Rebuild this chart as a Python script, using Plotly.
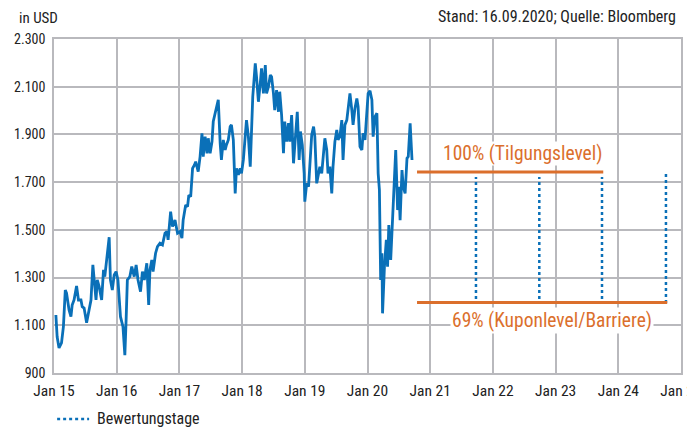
import plotly.graph_objects as go

# price history (decimal years, USD)
t_years = [
    2015.03, 2015.05, 2015.08, 2015.12, 2015.15, 2015.18, 2015.20, 2015.24, 2015.27, 2015.29,
    2015.32, 2015.36, 2015.39, 2015.43, 2015.45, 2015.48, 2015.52, 2015.56, 2015.59, 2015.62,
    2015.64, 2015.67, 2015.69, 2015.72, 2015.76, 2015.79, 2015.81, 2015.84, 2015.88, 2015.90,
    2015.93, 2015.96, 2015.99, 2016.02, 2016.04, 2016.06, 2016.10, 2016.13, 2016.15, 2016.17,
    2016.21, 2016.24, 2016.28, 2016.31, 2016.34, 2016.38, 2016.41, 2016.44, 2016.48, 2016.51,
    2016.53, 2016.56, 2016.58, 2016.62, 2016.65, 2016.69, 2016.73, 2016.77, 2016.80, 2016.82,
    2016.86, 2016.89, 2016.93, 2016.97, 2017.01, 2017.04, 2017.06, 2017.10, 2017.13, 2017.15,
    2017.18, 2017.21, 2017.24, 2017.26, 2017.30, 2017.33, 2017.36, 2017.38, 2017.41, 2017.44,
    2017.46, 2017.49, 2017.52, 2017.54, 2017.57, 2017.60, 2017.62, 2017.65, 2017.67, 2017.70,
    2017.73, 2017.75, 2017.78, 2017.81, 2017.83, 2017.86, 2017.89, 2017.91, 2017.94, 2017.97,
    2017.99, 2018.02, 2018.05, 2018.07, 2018.10, 2018.13, 2018.17, 2018.21, 2018.23, 2018.26,
    2018.29, 2018.31, 2018.34, 2018.37, 2018.39, 2018.42, 2018.45, 2018.47, 2018.50, 2018.52,
    2018.55, 2018.58, 2018.60, 2018.63, 2018.66, 2018.68, 2018.71, 2018.74, 2018.76, 2018.79,
    2018.82, 2018.84, 2018.88, 2018.91, 2018.93, 2018.96, 2018.99, 2019.00, 2019.03, 2019.06,
    2019.08, 2019.11, 2019.14, 2019.16, 2019.19, 2019.22, 2019.24, 2019.27, 2019.30, 2019.32,
    2019.35, 2019.37, 2019.40, 2019.43, 2019.45, 2019.48, 2019.51, 2019.53, 2019.56, 2019.59,
    2019.61, 2019.64, 2019.67, 2019.69, 2019.72, 2019.75, 2019.77, 2019.80, 2019.83, 2019.85,
    2019.88, 2019.91, 2019.93, 2019.96, 2019.99, 2020.01, 2020.04, 2020.07, 2020.09, 2020.12,
    2020.15, 2020.17, 2020.19, 2020.21, 2020.23, 2020.24, 2020.27, 2020.30, 2020.32, 2020.34,
    2020.37, 2020.40, 2020.43, 2020.45, 2020.48, 2020.50, 2020.52, 2020.55, 2020.57, 2020.60,
    2020.63, 2020.65, 2020.68, 2020.70, 2020.71,
]
price = [
    1143, 1052, 1005, 1026, 1094, 1248, 1235, 1164, 1136, 1185,
    1206, 1265, 1206, 1206, 1178, 1172, 1111, 1164, 1206, 1353,
    1276, 1206, 1290, 1262, 1206, 1332, 1304, 1388, 1469, 1290,
    1248, 1311, 1325, 1290, 1206, 1136, 1094, 975, 1122, 1290,
    1304, 1346, 1304, 1353, 1290, 1241, 1325, 1290, 1360, 1185,
    1332, 1374, 1325, 1402, 1430, 1444, 1437, 1486, 1493, 1458,
    1576, 1514, 1541, 1486, 1493, 1465, 1541, 1604, 1597, 1646,
    1639, 1758, 1772, 1786, 1744, 1807, 1905, 1807, 1891, 1821,
    1884, 1821, 1870, 1954, 1989, 2031, 2045, 1863, 1793, 1877,
    1835, 1856, 1877, 1933, 1940, 1877, 1653, 1758, 1730, 1758,
    1737, 1793, 1891, 1960, 1891, 1765, 2058, 2198, 2142, 2037,
    2114, 2177, 2072, 2191, 2072, 2100, 2149, 2142, 2072, 2002,
    2086, 1995, 2079, 1981, 1821, 1954, 1870, 1947, 1870, 1981,
    1779, 1849, 1995, 1793, 1912, 1856, 1737, 1618, 1695, 1681,
    1793, 1898, 1933, 1891, 1695, 1737, 1765, 1737, 1835, 1884,
    1835, 1737, 1765, 1653, 1765, 1870, 1919, 1877, 1891, 1960,
    1793, 1940, 1960, 2009, 2072, 2002, 1940, 2009, 2051, 2016,
    1849, 1835, 1905, 1877, 1989, 2072, 2083, 2045, 1891, 1974,
    1989, 1737, 1667, 1290, 1402, 1150, 1346, 1458, 1346, 1520,
    1374, 1555, 1737, 1835, 1583, 1681, 1541, 1751, 1681, 1653,
    1800, 1807, 1947, 1821, 1793,
]

# levels
level_names = ["100% (Tilgungslevel)", "69% (Kuponlevel/Barriere)"]
level_values = [1742, 1195]
level_start = [2020.79, 2020.79]
level_end = [2023.76, 2024.78]

# valuation days
valuation_label = "Bewertungstage"
valuation_days = [2021.73, 2022.74, 2023.74, 2024.76]
valuation_low = [1210, 1210, 1210, 1193]
valuation_high = [1722, 1722, 1722, 1747]

x_tickvals = [2015, 2016, 2017, 2018, 2019, 2020, 2021, 2022, 2023, 2024, 2025]
x_ticktext = ["Jan 15", "Jan 16", "Jan 17", "Jan 18", "Jan 19", "Jan 20",
              "Jan 21", "Jan 22", "Jan 23", "Jan 24", "Jan 25"]
y_tickvals = [900, 1100, 1300, 1500, 1700, 1900, 2100, 2300]
y_ticktext = ["900", "1.100", "1.300", "1.500", "1.700", "1.900", "2.100", "2.300"]

BLUE = "#0A70B8"
ORANGE = "#DB6F2C"
GRID = "#B9B9BD"
TXT = "#222222"
FONT = "Liberation Sans Narrow, Roboto Condensed, Arial Narrow, Roboto, sans-serif"

fig = go.Figure()

fig.add_trace(go.Scatter(x=t_years, y=price, mode="lines",
                         line=dict(color=BLUE, width=2.8), showlegend=False,
                         hoverinfo="skip"))

for d, lo, hi in zip(valuation_days, valuation_low, valuation_high):
    fig.add_trace(go.Scatter(x=[d, d], y=[lo, hi], mode="lines",
                             line=dict(color=BLUE, width=2.5, dash="dot"),
                             name=valuation_label, showlegend=False,
                             hoverinfo="skip"))

for v, s, e in zip(level_values, level_start, level_end):
    fig.add_trace(go.Scatter(x=[s, e], y=[v, v], mode="lines",
                             line=dict(color=ORANGE, width=3), showlegend=False,
                             hoverinfo="skip"))

fig.add_annotation(x=2022.47, y=1818, text=level_names[0], showarrow=False,
                   font=dict(color=ORANGE, size=19.5, family=FONT),
                   bgcolor="white", borderpad=0)
fig.add_annotation(x=2022.95, y=1118, text=level_names[1], showarrow=False,
                   font=dict(color=ORANGE, size=19.5, family=FONT),
                   bgcolor="white", borderpad=1)

fig.add_annotation(x=-0.059, y=1.063, xref="paper", yref="paper",
                   xanchor="left", yanchor="middle", text="in USD",
                   showarrow=False, font=dict(size=15, color=TXT, family=FONT))
fig.add_annotation(x=0.995, y=1.066, xref="paper", yref="paper",
                   xanchor="right", yanchor="middle",
                   text="Stand: 16.09.2020; Quelle: Bloomberg",
                   showarrow=False, font=dict(size=16, color=TXT, family=FONT))

# legend drawn in the bottom margin (avoids automargin push)
fig.add_shape(type="line", xref="paper", yref="paper",
              x0=0.005, x1=0.056, y0=-0.138, y1=-0.138,
              line=dict(color=BLUE, width=2.5, dash="dot"))
fig.add_annotation(x=0.066, y=-0.135, xref="paper", yref="paper",
                   xanchor="left", yanchor="middle", text=valuation_label,
                   showarrow=False, font=dict(size=16, color=TXT, family=FONT))

fig.update_layout(
    width=687, height=419,
    margin=dict(l=46, r=14, t=31, b=54, autoexpand=False),
    paper_bgcolor="white", plot_bgcolor="white",
    font=dict(family=FONT, size=14, color=TXT),
    showlegend=False,
    xaxis=dict(range=[2015, 2025], tickvals=x_tickvals, ticktext=x_ticktext,
               showgrid=True, gridcolor=GRID, gridwidth=1.6, zeroline=False,
               showline=True, linecolor=GRID, linewidth=1.6, mirror=True,
               ticks="", ticklabelstandoff=3, ticklabeloverflow="allow",
               tickfont=dict(size=15.5, family=FONT, color=TXT), fixedrange=True),
    yaxis=dict(range=[900, 2300], tickvals=y_tickvals, ticktext=y_ticktext,
               showgrid=True, gridcolor=GRID, gridwidth=1.6, zeroline=False,
               showline=True, linecolor=GRID, linewidth=1.6, mirror=True,
               ticks="", ticklabelstandoff=4,
               tickfont=dict(size=14, family=FONT, color=TXT), fixedrange=True),
)

fig.write_html("out.html")
